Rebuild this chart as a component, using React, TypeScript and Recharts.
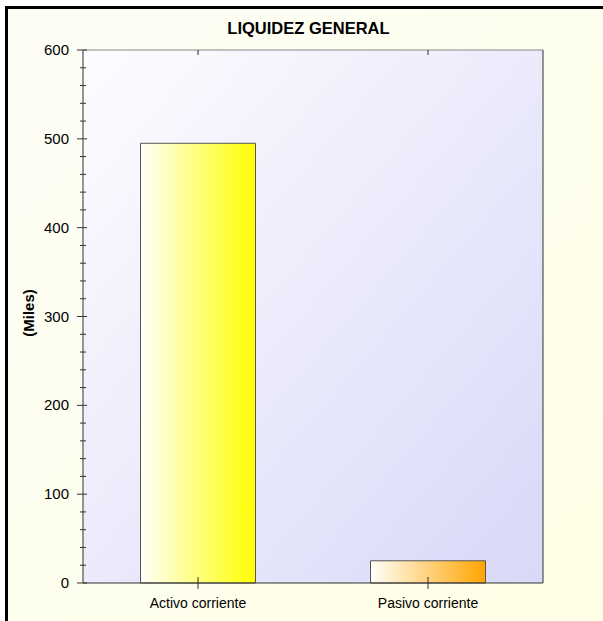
import React from 'react';
import { BarChart, Bar, XAxis, YAxis, CartesianGrid, Cell } from 'recharts';

const categories = ['Activo corriente', 'Pasivo corriente'];
const values = [495, 25];
const yTicks = [0, 20, 40, 60, 80, 100, 120, 140, 160, 180, 200, 220, 240, 260, 280, 300, 320, 340, 360, 380, 400, 420, 440, 460, 480, 500, 520, 540, 560, 580, 600];
const barColors = ['#ffff00', '#ffa500'];

const data = categories.map((name, i) => ({ name, value: values[i] }));

const FONT = 'Arial, "Liberation Sans", sans-serif';

const LeftTick = ({ x, y, payload }: any) => {
  const major = payload.value % 100 === 0;
  return (
    <g>
      <line x1={major ? x - 6 : x - 3} x2={major ? x + 4 : x + 3} y1={y} y2={y} stroke="#333" />
      {major && (
        <text x={x - 14} y={y} dy={5} textAnchor="end" fontSize={15} fontFamily={FONT} fill="#000">
          {payload.value}
        </text>
      )}
    </g>
  );
};

const RightTick = ({ x, y }: any) => <line x1={x - 5} x2={x} y1={y} y2={y} stroke="#444" />;

const TopTick = ({ x, y }: any) => <line x1={x} x2={x} y1={y} y2={y + 5} stroke="#333" />;

const BottomTick = ({ x, y, payload }: any) => (
  <g>
    <line x1={x} x2={x} y1={y - 6} y2={y + 6} stroke="#333" />
    <text x={x} y={y + 25} textAnchor="middle" fontSize={14} fontFamily={FONT} fill="#000">
      {payload.value}
    </text>
  </g>
);

export default function App() {
  return (
    <div style={{ position: 'absolute', left: 0, top: 0, width: 603, height: 621, overflow: 'hidden', fontFamily: FONT }}>
      <div
        style={{
          position: 'absolute',
          left: 5,
          top: 6,
          right: -10,
          bottom: -10,
          borderLeft: '3px solid #000',
          borderTop: '3px solid #000',
          background: 'linear-gradient(135deg, #fdfdf6 0%, #ffffe6 100%)',
        }}
      />
      <div
        style={{
          position: 'absolute',
          left: 0,
          width: 617,
          top: 19,
          textAlign: 'center',
          fontWeight: 'bold',
          fontSize: 16.5,
        }}
      >
        LIQUIDEZ GENERAL
      </div>
      <div
        style={{
          position: 'absolute',
          left: 28,
          top: 313,
          transform: 'translate(-50%, -50%) rotate(-90deg)',
          fontWeight: 'bold',
          fontSize: 15,
          whiteSpace: 'nowrap',
        }}
      >
        (Miles)
      </div>
      <div style={{ position: 'absolute', left: 0, top: 0 }}>
        <BarChart
          width={603}
          height={621}
          data={data}
          margin={{ top: 49, right: 59, bottom: 8, left: 23 }}
          barCategoryGap="25%"
        >
          <defs>
            <linearGradient id="plotBg" x1="0" y1="0" x2="1" y2="1">
              <stop offset="0%" stopColor="#fdfdff" />
              <stop offset="100%" stopColor="#d8d8f8" />
            </linearGradient>
            {barColors.map((c, i) => (
              <linearGradient key={`g-${i}`} id={`barGrad${i}`} x1="0" y1="0" x2="1" y2="0">
                <stop offset="0%" stopColor="#fffffa" />
                <stop offset="100%" stopColor={c} />
              </linearGradient>
            ))}
          </defs>
          <CartesianGrid horizontal={false} vertical={false} fill="url(#plotBg)" />
          <XAxis
            dataKey="name"
            height={30}
            tickSize={0}
            tickMargin={0}
            tick={<BottomTick />}
            tickLine={false}
            axisLine={{ stroke: '#333' }}
            interval={0}
          />
          <XAxis
            xAxisId="top"
            orientation="top"
            dataKey="name"
            height={1}
            tickSize={0}
            tickMargin={0}
            tick={<TopTick />}
            tickLine={false}
            axisLine={{ stroke: '#888' }}
            interval={0}
          />
          <YAxis
            type="number"
            domain={[0, 600]}
            ticks={yTicks}
            width={60}
            tickSize={0}
            tickMargin={0}
            tick={<LeftTick />}
            tickLine={false}
            axisLine={{ stroke: '#333' }}
            interval={0}
          />
          <YAxis
            yAxisId="right"
            orientation="right"
            type="number"
            domain={[0, 600]}
            ticks={yTicks}
            width={1}
            tickSize={0}
            tickMargin={0}
            tick={<RightTick />}
            tickLine={false}
            axisLine={{ stroke: '#333' }}
            interval={0}
          />
          <Bar dataKey="value" stroke="#555" strokeWidth={1} isAnimationActive={false}>
            {data.map((d, i) => (
              <Cell key={`c-${d.name}`} fill={`url(#barGrad${i})`} />
            ))}
          </Bar>
        </BarChart>
      </div>
    </div>
  );
}
